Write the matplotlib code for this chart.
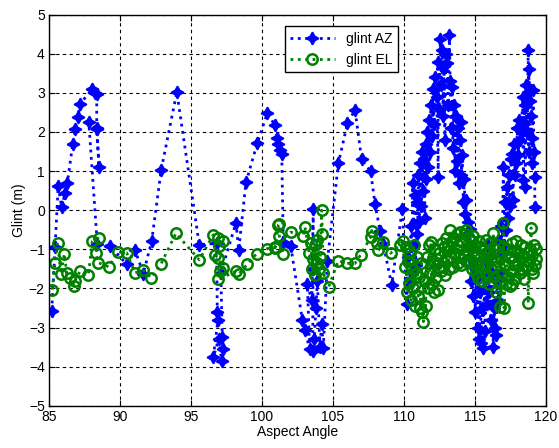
import numpy as np
import matplotlib
matplotlib.use("Agg")
import matplotlib.pyplot as plt

# -----------------------------
# Data
# -----------------------------

az_x = [85.19, 85.42, 85.65, 85.89, 86.13, 86.29, 86.67, 86.85, 87.04, 87.18,
        88.05, 88.25, 88.36, 88.36, 88.52, 88.36, 87.80, 88.40, 89.30, 90.47,
        91.06, 91.64, 92.23, 92.90, 94.00, 95.58, 96.80, 96.85, 96.90, 96.57,
        96.95, 97.16, 97.25, 97.20, 97.10, 98.17, 98.36, 98.87, 99.67, 100.37,
        100.92, 101.08, 101.15, 101.25, 101.39, 101.50, 102.02, 102.84, 103.03, 103.35,
        103.20, 103.50, 103.61, 103.60, 103.57, 103.68, 103.80, 103.90, 104.08, 104.20,
        104.32, 104.60, 105.38, 106.02, 106.55, 107.02, 107.65, 107.96, 108.31, 108.54,
        109.13, 109.88,
        110.19, 110.30, 110.40, 110.50, 110.55, 110.62, 110.70, 110.75, 110.82, 110.90,
        110.95, 111.02, 111.08, 111.15, 111.20, 111.28, 111.33, 111.40, 111.45, 111.52,
        111.58, 111.65, 111.70, 111.78, 111.85, 111.90, 111.97, 112.05, 112.10, 112.18,
        112.30, 112.42, 112.38, 112.45, 112.56, 112.62, 112.70, 112.75, 112.82, 112.88,
        112.95, 113.05, 113.10, 113.20, 113.25, 113.32, 113.40, 113.45, 113.52, 113.58,
        113.65, 113.72, 113.80, 113.87, 113.93, 113.99, 114.05, 114.10, 114.18, 114.25,
        114.30, 114.35, 114.42, 114.50, 114.58, 114.65, 114.72, 114.80, 114.88, 114.95,
        115.02, 115.10, 115.18, 115.23, 115.30, 115.38, 115.45, 115.52, 115.58, 115.65,
        115.72, 115.78, 115.85, 115.92, 116.00, 116.05, 116.12, 116.20, 116.29, 116.35,
        116.42, 116.50, 116.55, 116.62, 116.70, 116.78, 116.85, 116.92, 117.00, 117.04,
        117.10, 117.18, 117.25, 117.32, 117.40, 117.48, 117.55, 117.60, 117.68, 117.75,
        117.82, 117.90, 117.98, 118.05, 118.12, 118.20, 118.28, 118.35, 118.41, 118.45,
        118.50, 118.55, 118.60, 118.68, 118.75, 118.78, 118.80, 118.85, 118.90, 118.95,
        119.00, 119.05, 119.10, 119.15, 119.20, 119.22]
az_y = [-2.57, -0.95, 0.62, 0.07, 0.45, 0.70, 1.69, 2.08, 2.38, 2.72,
        3.09, 3.00, 2.98, 2.09, 1.11, 2.08, 2.26, -0.87, -0.92, -1.38,
        -1.02, -1.62, -0.79, 1.03, 3.02, -0.88, -0.85, -2.60, -2.80, -3.76,
        -3.30, -3.85, -3.55, -3.25, -1.60, -0.32, -1.02, 0.71, 1.72, 2.48,
        2.17, 1.85, 1.69, 1.55, 1.44, -0.82, -0.91, -2.81, -3.07, -3.55,
        -1.90, -2.30, 0.03, -1.50, -3.60, -3.30, -2.50, -1.80, -3.50, -2.90,
        -3.53, -1.31, 1.20, 2.23, 2.56, 1.30, 0.99, 0.16, -0.52, -0.86,
        -1.91, 0.03,
        -2.40, -1.20, -1.80, -0.40, -1.60, 0.70, -0.90, 0.40, -1.40, 0.20,
        -0.60, 0.90, -0.30, 1.20, 0.10, 1.50, 0.50, 1.30, -0.20, 1.70,
        0.80, 2.00, 1.10, 2.30, 1.50, 2.70, 1.90, 3.10, 2.20, 3.40,
        2.90, 0.85, 3.80, 2.60, 4.38, 3.20, 4.10, 2.40, 3.70, 1.80,
        4.00, 3.76, 2.70, 4.47, 3.30, 2.10, 3.15, 1.60, 2.70, 1.00,
        2.40, 1.26, 2.10, 0.70, 1.80, 2.25, 0.90, 1.40, 0.20, 0.80,
        -0.10, 0.26, -0.60, -0.30, -1.20, -0.49, -1.80, -1.00, -2.20, -1.40,
        -2.60, -1.70, -3.00, -1.70, -3.30, -2.10, -3.40, -2.50, -3.53, -2.00,
        -3.10, -1.30, -2.40, -0.90, -2.10, -1.20, -2.80, -1.60, -3.49, -2.50,
        -3.00, -3.20, -1.80, -2.30, -0.80, -1.60, -0.40, -1.10, 1.10, -0.90,
        0.20, -0.50, 0.60, -0.20, 0.90, 0.10, 1.30, 1.45, 0.25, 1.70,
        0.90, 1.20, 2.09, 1.40, 2.30, 1.80, 2.00, 2.90, 0.77, 2.20,
        2.70, 0.60, 3.20, 2.00, 4.10, 1.50, 3.60, 2.80, 3.05, 2.40,
        1.20, 1.85, 3.07, 1.50, 0.85, 0.09]

el_x = [85.23, 85.42, 85.60, 85.84, 86.08, 86.24, 86.48, 86.78, 86.83, 87.18,
        87.77, 88.05, 88.52, 88.29, 88.47, 89.22, 89.83, 90.47, 91.06, 91.64,
        92.20, 92.89, 93.94, 95.58, 96.57, 96.92, 97.22, 96.99, 96.68, 96.92,
        97.22, 97.03, 96.92, 98.17, 98.40, 98.97, 99.62, 100.38, 100.92, 101.15,
        101.22, 101.22, 101.50, 100.92, 102.02, 102.90, 103.03, 103.33, 103.45, 103.55,
        103.60, 103.70, 103.75, 103.85, 103.90, 104.00, 104.10, 104.20, 104.25, 104.30,
        104.69, 105.38, 105.97, 106.55, 106.95, 107.65, 107.72, 108.11, 108.20, 108.55,
        109.06, 109.72, 109.90,
        110.05, 110.12, 110.20, 110.28, 110.35, 110.42, 110.50, 110.55, 110.62, 110.70,
        110.78, 110.85, 110.92, 111.00, 111.08, 111.15, 111.22, 111.30, 111.37, 111.45,
        111.52, 111.60, 111.68, 111.75, 111.82, 111.90, 111.95, 112.02, 112.10, 112.18,
        112.25, 112.32, 112.42, 112.50, 112.58, 112.65, 112.72, 112.80, 112.88, 112.95,
        113.02, 113.10, 113.18, 113.24, 113.32, 113.40, 113.48, 113.55, 113.62, 113.70,
        113.78, 113.83, 113.90, 113.98, 114.05, 114.12, 114.20, 114.28, 114.35, 114.40,
        114.48, 114.55, 114.62, 114.70, 114.78, 114.85, 114.92, 115.00, 115.08, 115.15,
        115.23, 115.30, 115.38, 115.45, 115.52, 115.60, 115.68, 115.75, 115.82, 115.90,
        115.98, 116.05, 116.12, 116.20, 116.29, 116.35, 116.42, 116.50, 116.58, 116.65,
        116.72, 116.76, 116.82, 116.90, 116.98, 117.00, 117.05, 117.12, 117.20, 117.28,
        117.35, 117.42, 117.50, 117.58, 117.62, 117.70, 117.78, 117.85, 117.92, 118.00,
        118.08, 118.15, 118.22, 118.30, 118.38, 118.45, 118.52, 118.60, 118.68, 118.75,
        118.80, 118.88, 118.95, 119.00, 119.05, 119.12, 119.18, 119.22, 119.28, 119.30]
el_y = [-2.03, -1.34, -0.83, -1.64, -1.11, -1.60, -1.73, -1.94, -1.81, -1.56,
        -1.66, -0.80, -0.70, -1.09, -1.34, -1.45, -1.07, -1.09, -1.60, -1.54,
        -1.73, -1.37, -0.59, -1.27, -0.63, -0.70, -0.80, -0.91, -1.15, -1.21,
        -1.47, -1.56, -1.77, -1.56, -1.62, -1.38, -1.11, -0.98, -0.96, -0.38,
        -0.35, -0.65, -1.12, -0.93, -0.56, -0.65, -0.44, -1.10, -0.85, -1.50,
        -1.25, -0.90, -1.65, -1.35, -0.75, -1.50, -1.20, 0.00, -0.60, -1.60,
        -1.97, -1.29, -1.36, -1.36, -1.14, -0.69, -0.52, -0.85, -1.03, -0.82,
        -1.10, -0.88, -0.80,
        -1.45, -0.95, -2.10, -1.30, -1.85, -1.10, -2.30, -1.50, -2.00, -0.90,
        -2.45, -1.60, -1.20, -2.20, -1.70, -2.50, -1.35, -2.60, -2.85, -1.80,
        -2.45, -1.20, -2.00, -0.90, -1.60, -0.81, -1.90, -1.30, -2.10, -1.00,
        -1.70, -1.25, -2.04, -1.10, -1.55, -0.85, -1.45, -0.95, -1.65, -0.70,
        -1.30, -0.90, -1.50, -0.50, -1.20, -0.80, -1.45, -0.70, -1.10, -0.60,
        -1.35, -0.90, -1.20, -0.55, -1.40, -0.80, -1.15, -0.60, -1.30, -0.50,
        -1.05, -0.70, -1.35, -0.80, -1.50, -0.65, -1.20, -0.90, -1.60, -1.10,
        -1.74, -0.80, -1.55, -0.95, -1.80, -1.00, -1.40, -0.75, -1.65, -1.10,
        -1.90, -0.85, -1.50, -1.20, -0.59, -1.70, -1.00, -2.10, -1.30, -0.90,
        -1.85, -2.47, -1.20, -1.60, -0.95, -0.33, -2.50, -1.40, -1.90, -1.00,
        -1.70, -1.20, -1.95, -0.85, -1.90, -1.30, -1.05, -1.75, -0.80, -1.40,
        -1.10, -1.60, -0.90, -1.50, -1.20, -1.75, -0.95, -1.45, -1.10, -2.37,
        -1.30, -1.00, -0.45, -1.50, -1.15, -1.60, -0.90, -1.40, -1.25, -1.00]

# -----------------------------
# Plot
# -----------------------------

plt.rcParams['font.family'] = ['Liberation Sans', 'DejaVu Sans']
plt.rcParams['font.size'] = 10

fig = plt.figure(figsize=(5.59, 4.48), dpi=100)
ax = fig.add_axes([0.0877, 0.0944, 0.889, 0.8728])

ax.plot(az_x, az_y, linestyle=':', color='#0000ff', linewidth=2,
        marker=(4, 1, 0), markersize=9, markeredgewidth=1.2,
        markerfacecolor='#0000ff', markeredgecolor='#0000ff', label='glint AZ')
ax.plot(el_x, el_y, linestyle=':', color='#008000', linewidth=2,
        marker='o', markersize=7.5, markeredgewidth=1.8,
        markerfacecolor='none', markeredgecolor='#008000', label='glint EL')

ax.set_xlim(85, 120)
ax.set_ylim(-5, 5)
ax.set_xticks(np.arange(85, 121, 5))
ax.set_yticks(np.arange(-5, 6, 1))
ax.grid(True, color='black', linestyle=(0, (3, 3)), linewidth=0.8)
ax.tick_params(direction='in', top=True, right=True, length=4, pad=3)
for s in ax.spines.values():
    s.set_linewidth(1.0)

ax.set_xlabel('Aspect Angle', labelpad=1)
ax.set_ylabel('Glint (m)', labelpad=2)

leg = ax.legend(loc='upper left', bbox_to_anchor=(0.474, 0.971), borderaxespad=0,
                fancybox=False, edgecolor='black', framealpha=1, handlelength=3.2,
                borderpad=0.4, labelspacing=0.5)
leg.get_frame().set_linewidth(1.0)

fig.savefig('out.png', dpi=100)
